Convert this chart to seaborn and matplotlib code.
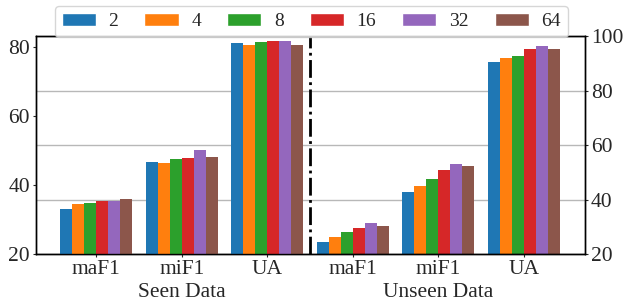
import numpy as np
import pandas as pd
import seaborn as sns
import matplotlib
matplotlib.use("Agg")
import matplotlib.pyplot as plt
import matplotlib.transforms as mtransforms

metrics = ["maF1", "miF1", "UA"]
shots = ["2", "4", "8", "16", "32", "64"]

seen_maF1 = [33.1, 34.6, 34.8, 35.4, 35.4, 36.0]
seen_miF1 = [46.9, 46.6, 47.5, 47.8, 50.1, 48.1]
seen_UA = [81.3, 80.7, 81.6, 81.9, 81.9, 80.7]

unseen_maF1 = [24.5, 26.4, 28.2, 29.7, 31.5, 30.4]
unseen_miF1 = [42.9, 45.1, 47.7, 50.7, 53.2, 52.5]
unseen_UA = [90.4, 91.9, 92.6, 95.2, 96.3, 95.2]

group_labels = ["Seen Data", "Unseen Data"]

sns.set_style("ticks")
plt.rcParams["font.family"] = ["Liberation Serif", "DejaVu Serif"]
plt.rcParams["font.size"] = 15.5

keys = [f"S_{m}" for m in metrics] + [f"U_{m}" for m in metrics]

rows = []
for m, vals in zip(metrics, [seen_maF1, seen_miF1, seen_UA]):
    for s, v in zip(shots, vals):
        rows.append(dict(key=f"S_{m}", shot=s, value=v, grp="seen"))
for m, vals in zip(metrics, [unseen_maF1, unseen_miF1, unseen_UA]):
    for s, v in zip(shots, vals):
        rows.append(dict(key=f"U_{m}", shot=s, value=v, grp="unseen"))
df = pd.DataFrame(rows)

palette = sns.color_palette("tab10", 6)

fig = plt.figure(figsize=(6.24, 3.03), dpi=100)
ax = fig.add_axes([0.057, 0.161, 0.881, 0.720])
ax2 = ax.twinx()

ax2.set_zorder(0)
ax.set_zorder(1)
ax.patch.set_visible(False)

sns.barplot(data=df[df.grp == "seen"], x="key", y="value", hue="shot",
            order=keys, hue_order=shots, palette=palette, saturation=1,
            width=0.84, gap=0, ax=ax, legend=True)
sns.barplot(data=df[df.grp == "unseen"], x="key", y="value", hue="shot",
            order=keys, hue_order=shots, palette=palette, saturation=1,
            width=0.84, gap=0, ax=ax2, legend=False)

for a in (ax, ax2):
    for p in a.patches:
        p.set_linewidth(0)

ax.set_ylim(20, 83.3)
ax2.set_ylim(20, 100)
ax.set_yticks([20, 40, 60, 80])
ax2.set_yticks([20, 40, 60, 80, 100])
ax.set_xlim(-0.71, 5.72)
ax.set_xticks(range(6))
ax.set_xticklabels(metrics + metrics)
ax.set_xlabel("")
ax.set_ylabel("")
ax2.set_ylabel("")

ax2.grid(axis="y", color="#b8b8b8", linewidth=1)
ax.grid(False)

for a in (ax, ax2):
    a.tick_params(axis="both", labelsize=15.5, length=2.5, width=0.8, pad=1.5)
    for sp in a.spines.values():
        sp.set_visible(True)
        sp.set_color("black")
        sp.set_linewidth(1)

ax.axvline(2.5, color="black", linestyle="-.", linewidth=2)

trans = mtransforms.blended_transform_factory(ax.transData, fig.transFigure)
ax.text(1, 0.035, group_labels[0], transform=trans, ha="center", va="center", fontsize=15.5)
ax.text(4, 0.035, group_labels[1], transform=trans, ha="center", va="center", fontsize=15.5)

leg = ax.get_legend()
handles = leg.legend_handles
leg.remove()
fig.legend(handles, shots, loc="upper center", bbox_to_anchor=(0.499, 0.98),
           ncol=6, fontsize=14, frameon=True, handlelength=1.75,
           handleheight=0.7, handletextpad=0.65, columnspacing=1.35,
           borderpad=0.35, borderaxespad=0)

fig.savefig("out.png", dpi=100)
